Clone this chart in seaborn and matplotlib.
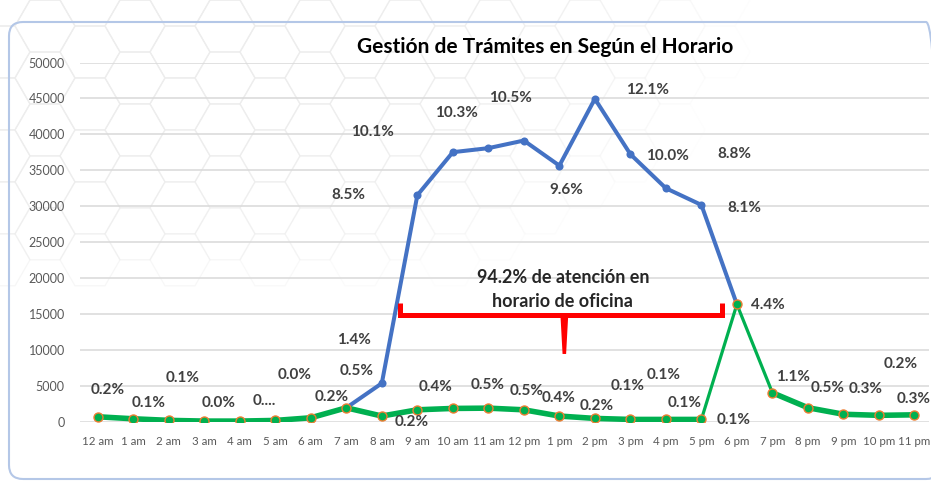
import numpy as np
import pandas as pd
import matplotlib
matplotlib.use("Agg")
import matplotlib.pyplot as plt
import seaborn as sns
from matplotlib.patches import FancyBboxPatch, RegularPolygon
from matplotlib.transforms import IdentityTransform

# ---------------- data ----------------
hours = ["12 am", "1 am", "2 am", "3 am", "4 am", "5 am", "6 am", "7 am", "8 am",
         "9 am", "10 am", "11 am", "12 pm", "1 pm", "2 pm", "3 pm", "4 pm", "5 pm",
         "6 pm", "7 pm", "8 pm", "9 pm", "10 pm", "11 pm"]

# all hours (green series)
green_vals = [700, 420, 200, 100, 100, 190, 560, 1950, 800, 1670, 1860, 1900,
              1670, 800, 470, 330, 330, 330, 16350, 4040, 1960, 1050, 900, 970]
green_labels = ["0.2%", "0.1%", "0.1%", "0.0%", "0....", "0.0%", "0.2%", "0.5%",
                "0.2%", "0.4%", "0.5%", "0.5%", "0.4%", "0.2%", "0.1%", "0.1%",
                "0.1%", "0.1%", "", "1.1%", "0.5%", "0.3%", "0.2%", "0.3%"]

# office hours (blue series), 7 am .. 6 pm
blue_hours = hours[7:19]
blue_vals = [1950, 5360, 31530, 37520, 38080, 39140, 35650, 44940, 37240,
             32500, 30180, 16350]
blue_labels = ["", "1.4%", "8.5%", "10.1%", "10.3%", "10.5%", "9.6%", "12.1%",
               "10.0%", "8.8%", "8.1%", "4.4%"]

y_ticks = [0, 5000, 10000, 15000, 20000, 25000, 30000, 35000, 40000, 45000, 50000]

title = "Gestión de Trámites en Según el Horario"
note = "94.2% de atención en\nhorario de oficina"

# ---------------- layout (label offsets in pixels, dx, dy-up) ----------------
green_off = [(10, 27), (15, 16), (14, 42), (14, 18), (25, 20), (19, 45), (21, 21),
             (10, 37), (30, -6), (18, 23), (35, 23), (38, 17), (35, 12), (37, 10),
             (33, 32), (33, 44), (19, 16), (32, -1), (0, 0), (21, 16), (20, 20),
             (22, 25), (22, 51), (-1, 16)]
blue_off = [(0, 0), (-28, 43), (-69, 0), (-80, 20), (-32, 35), (-13, 43), (7, -24),
            (53, 9), (37, -2), (68, 34), (43, -3), (31, -1)]

BLUE = "#4472C4"
GREEN = "#00B050"
ORANGE = "#ED7D31"
LABEL_C = "#404040"
TICK_C = "#595959"
GRID_C = "#D9D9D9"

sns.set_theme(style="white")
plt.rcParams["font.family"] = ["Lato", "DejaVu Sans"]

W, H = 931, 487
fig = plt.figure(figsize=(W / 100, H / 100), dpi=100)
fig.patch.set_facecolor("white")

# faint hexagon background (top-left)
r = 30
hx = 1.5 * r
hy = np.sqrt(3) * r
for i in range(-1, 18):
    for j in range(-1, 8):
        cx = i * hx
        cy = j * hy + (hy / 2 if i % 2 else 0)
        if cx > 720 or cy > 270:
            continue
        fade = max(0.0, 1 - (cx / 760) ** 2 - (cy / 290) ** 2 * 0.7)
        if fade <= 0.05:
            continue
        hexp = RegularPolygon((cx, H - cy), numVertices=6, radius=r,
                              orientation=np.pi / 2, facecolor="none",
                              edgecolor="#EDEDED", lw=0.9,
                              alpha=min(1, fade * 1.1), zorder=-5,
                              transform=IdentityTransform())
        fig.patches.append(hexp)

# chart border (rounded, right side just beyond the picture)
border = FancyBboxPatch((9, H - 479), 931, 457, boxstyle="round,pad=0,rounding_size=14",
                        facecolor="none", edgecolor="#B4C7E7", lw=1.5,
                        transform=IdentityTransform(), zorder=-4)
fig.patches.append(border)

ax = fig.add_axes([80 / W, 1 - 421.8 / H, 849 / W, (421.8 - 62.5) / H])
ax.set_facecolor("none")
ax.set_zorder(2)

x_all = np.arange(len(hours))
df_green = pd.DataFrame({"x": x_all, "y": green_vals, "hour": hours})
df_blue = pd.DataFrame({"x": [hours.index(h) for h in blue_hours], "y": blue_vals})
seg = ["a" if i < 18 else ("b" if i > 18 else None) for i in x_all]
df_thick = df_green.assign(seg=seg).dropna(subset=["seg"])

sns.lineplot(data=df_blue, x="x", y="y", color=BLUE, lw=2.9, marker="o",
             markersize=5.8, markeredgewidth=0, ax=ax, zorder=2)
sns.lineplot(data=df_green, x="x", y="y", color=GREEN, lw=2.3, ax=ax, zorder=3)
sns.lineplot(data=df_thick, x="x", y="y", units="seg", estimator=None,
             color=GREEN, lw=4.0, ax=ax, zorder=3)
sns.scatterplot(data=df_green, x="x", y="y", color=GREEN, edgecolor=ORANGE,
                linewidth=1.0, s=42, ax=ax, zorder=4)

lab_kw = dict(textcoords="offset pixels", ha="center", va="center",
              fontsize=11, fontweight="bold", color=LABEL_C, zorder=5,
              annotation_clip=False)
for xi, yi, lab, off in zip(df_green["x"], df_green["y"], green_labels, green_off):
    if lab:
        ax.annotate(lab, (xi, yi), xytext=off, **lab_kw)
for xi, yi, lab, off in zip(df_blue["x"], df_blue["y"], blue_labels, blue_off):
    if lab:
        ax.annotate(lab, (xi, yi), xytext=off, **lab_kw)

# red bracket annotation
bx0, bx1, bxm = 8.51, 17.57, 13.14
by_top, by_bar, by_tip = 16550, 14870, 9440
ax.plot([bx0, bx0, bx1, bx1], [by_top, by_bar, by_bar, by_top], color="#FF0000",
        lw=3.6, solid_joinstyle="miter", solid_capstyle="butt", zorder=5)
ax.fill([bxm - 0.11, bxm + 0.11, bxm + 0.05, bxm - 0.05],
        [by_bar, by_bar, by_tip, by_tip], color="#FF0000", lw=0, zorder=5)
ax.text(13.1, 18430, note, ha="center", va="center", fontsize=13,
        fontweight="bold", color="#262626", linespacing=1.5, zorder=5)

ax.set_xlim(-0.5, 23.41)
ax.set_ylim(0, 50000)
ax.set_xticks(x_all)
ax.set_xticklabels(hours)
ax.set_yticks(y_ticks)
ax.set_yticklabels([str(v) for v in y_ticks])
ax.tick_params(axis="x", length=0, pad=10, labelsize=8.3, labelcolor=TICK_C)
ax.tick_params(axis="y", length=0, pad=11, labelsize=9, labelcolor=TICK_C)
ax.set_xlabel("")
ax.set_ylabel("")
ax.grid(axis="y", color=GRID_C, lw=1.1)
ax.grid(axis="x", visible=False)
ax.set_axisbelow(True)
for s in ax.spines.values():
    s.set_visible(False)

fig.text(545.5 / W, 1 - 46.7 / H, title, ha="center", va="center",
         fontsize=15, fontweight="bold", color="black")

fig.savefig("out.png", dpi=100)
